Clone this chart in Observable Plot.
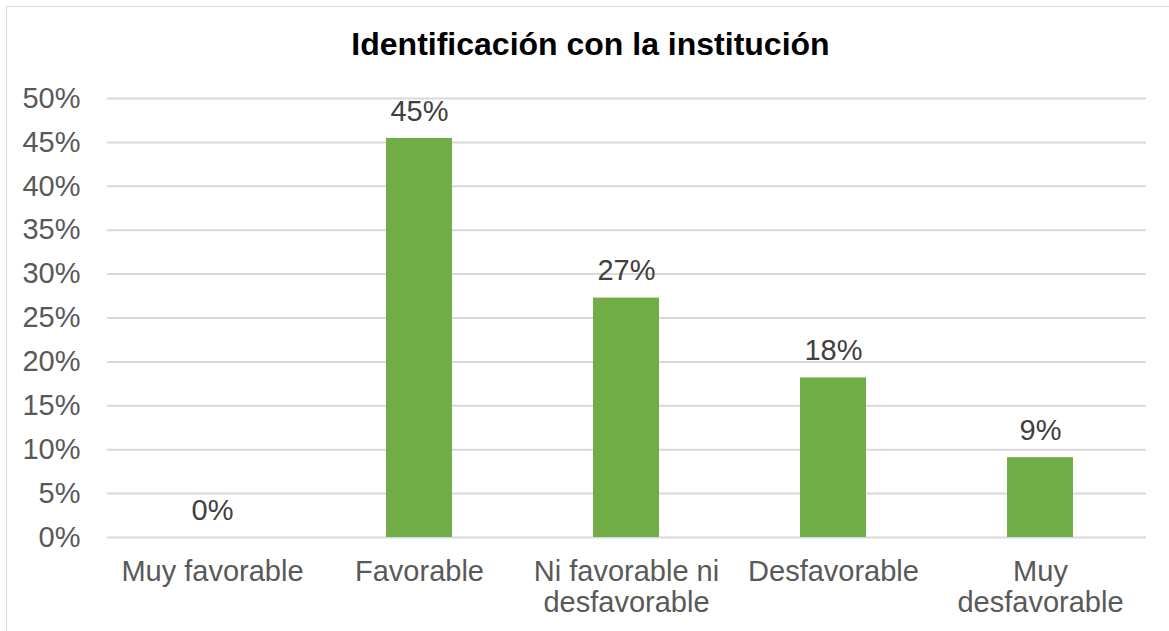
<!DOCTYPE html>
<html>
<head>
<meta charset="utf-8">
<script src="https://cdn.jsdelivr.net/npm/d3@7"></script>
<script src="https://cdn.jsdelivr.net/npm/@observablehq/plot@0.6"></script>
<style>
  html, body { margin: 0; padding: 0; background: #fff; }
  #wrap { position: relative; width: 1169px; height: 631px; overflow: hidden; font-family: "Liberation Sans", Arial, sans-serif; }
  #frame { position: absolute; left: 6px; top: 6px; width: 1200px; height: 700px; border: 1px solid #d9d9d9; box-sizing: border-box; }
  #title { position: absolute; left: 6px; width: 1169px; top: 28px; text-align: center; font-size: 32px; line-height: 1; font-weight: bold; color: #000; }
  #chart { position: absolute; left: 0; top: 0; }
</style>
</head>
<body>
<div id="wrap">
  <div id="frame"></div>
  <div id="title">Identificación con la institución</div>
  <div id="chart"></div>
</div>
<script>
const categories = ["Muy favorable", "Favorable", "Ni favorable ni\ndesfavorable", "Desfavorable", "Muy\ndesfavorable"];
const values = [0, 0.4545, 0.2727, 0.1818, 0.0909];
const yTicks = [0, 0.05, 0.10, 0.15, 0.20, 0.25, 0.30, 0.35, 0.40, 0.45, 0.50];
const yTickLabels = ["0%", "5%", "10%", "15%", "20%", "25%", "30%", "35%", "40%", "45%", "50%"];

const data = categories.map((c, i) => ({cat: c, value: values[i]}));

const chart = Plot.plot({
  width: 1169,
  height: 631,
  marginLeft: 107,
  marginRight: 23,
  marginTop: 98,
  marginBottom: 94,
  style: {fontFamily: "'Liberation Sans', Arial, sans-serif", background: "transparent", overflow: "visible"},
  x: {domain: categories, paddingInner: 0.68, paddingOuter: 0.34},
  y: {domain: [0, 0.5]},
  marks: [
    Plot.ruleY(yTicks, {stroke: "#d9d9d9", strokeWidth: 2}),
    Plot.barY(data, {x: "cat", y: "value", fill: "#70ad47"}),
    Plot.text(data, {x: "cat", y: "value", text: d => Math.round(d.value * 100) + "%", dy: -27, fontSize: 29, fill: "#404040"}),
    Plot.axisY({ticks: yTicks, tickFormat: d => yTickLabels[yTicks.indexOf(d)], tickSize: 0, tickPadding: 27, fontSize: 29, fill: "#595959", label: null}),
    Plot.axisX({tickSize: 0, tickPadding: 22, fontSize: 29, lineHeight: 1.06, fill: "#595959", label: null})
  ]
});
document.getElementById("chart").appendChild(chart);
</script>
</body>
</html>
